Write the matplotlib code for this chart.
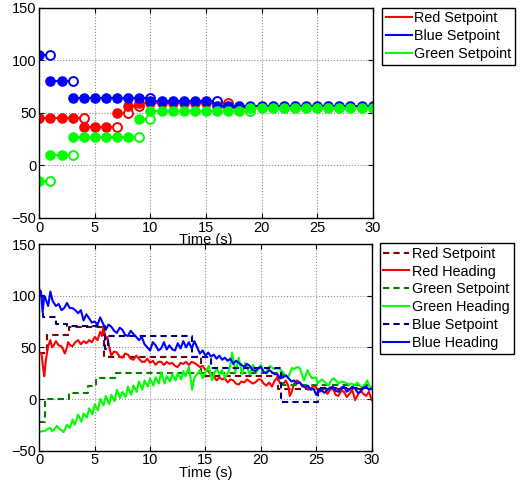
import numpy as np
import matplotlib
matplotlib.use('Agg')
import matplotlib.pyplot as plt
from matplotlib.lines import Line2D

plt.rcParams['font.family'] = ['Liberation Sans', 'DejaVu Sans']

# top chart: setpoint steps (segment boundaries in s, value on each segment)
red_sp_t = [0, 4, 7, 8, 9, 17, 30]
red_sp_v = [45, 36, 49.5, 56.5, 59.5, 55]
blue_sp_t = [0, 1, 3, 10, 16, 30]
blue_sp_v = [105, 80, 63.7, 61.5, 56.5]
green_sp_t = [0, 1, 3, 9, 10, 19, 30]
green_sp_v = [-15, 10, 26.5, 44, 52, 54.5]

# bottom chart: setpoints (step changes) and measured headings
red_set_t = [0, 0.7, 2.7, 5.8, 14.6, 21.5, 30]
red_set_v = [45, 62, 70, 40.5, 22, 10, 10]
green_set_t = [0, 0.5, 2.7, 4.4, 5.1, 6.9, 22, 30]
green_set_v = [-22, 0, 6, 13, 20, 25.5, 14, 14]
blue_set_t = [0, 0.3, 1.5, 2.5, 5.9, 6.2, 13.8, 15.5, 21.8, 25.2, 30]
blue_set_v = [100, 79, 73, 71, 48, 61, 41, 30, -3, 11, 11]

blue_head_t = [0, 0.15, 0.3, 0.45, 0.6, 0.8, 1.0, 1.2, 1.5, 1.75, 2.0, 2.25, 2.5, 2.75, 3.0,
               3.25, 3.5, 3.75, 4.0, 4.25, 4.5, 4.75, 5.0, 5.25, 5.5, 5.75, 6.0, 6.25, 6.5,
               6.75, 7.0, 7.25, 7.5, 7.75, 8.0, 8.25, 8.5, 8.75, 9.0, 9.25, 9.5, 9.75, 10.0,
               10.25, 10.5, 10.75, 11.0, 11.25, 11.5, 11.75, 12.0, 12.25, 12.5, 12.75, 13.0,
               13.25, 13.5, 13.75, 14.0, 14.25, 14.5, 14.75, 15.0, 15.25, 15.5, 15.75, 16.0,
               16.25, 16.5, 16.75, 17.0, 17.25, 17.5, 17.75, 18.0, 18.25, 18.5, 18.75, 19.0,
               19.25, 19.5, 19.75, 20.0, 20.25, 20.5, 20.75, 21.0, 21.25, 21.5, 21.75, 22.0,
               22.25, 22.5, 22.75, 23.0, 23.25, 23.5, 23.75, 24.0, 24.25, 24.5, 24.75, 25.0,
               25.25, 25.5, 25.75, 26.0, 26.25, 26.5, 26.75, 27.0, 27.25, 27.5, 27.75, 28.0,
               28.25, 28.5, 28.75, 29.0, 29.25, 29.5, 29.75, 30]
blue_head_v = [106, 104, 84, 100, 96, 90, 104, 95, 90, 92, 86, 88, 93, 88, 88,
               86, 83, 86, 76, 82, 78, 74, 75, 72, 79, 73, 67, 72, 70,
               66, 64, 69, 67, 62, 61, 66, 63, 60, 57, 60, 53, 50, 47,
               55, 52, 47, 49, 55, 48, 52, 48, 47, 54, 49, 56,
               50, 55, 49, 56, 50, 44, 47, 42, 45, 41, 43, 39,
               42, 38, 40, 37, 39, 34, 37, 35, 33, 31, 34, 32,
               28, 27, 30, 31, 26, 25, 28, 26, 24, 24, 20, 21,
               23, 20, 17, 18, 15, 16, 13, 11, 13, 9, 10, 4,
               9, 8, 6, 9, 11, 12, 8, 7, 11, 12, 7, 9,
               12, 10, 6, 7, 11, 12, 9, 10]

red_head_t = [0, 0.2, 0.35, 0.45, 0.6, 0.8, 1.0, 1.15, 1.3, 1.5, 1.75, 2.0, 2.15, 2.3, 2.5,
              2.6, 2.8, 3.0, 3.25, 3.5, 3.75, 4.0, 4.25, 4.5, 4.75, 5.0, 5.25, 5.5, 5.65,
              5.8, 6.0, 6.15, 6.3, 6.5, 6.75, 7.0, 7.25, 7.5, 7.75, 8.0, 8.25, 8.5, 8.75,
              9.0, 9.25, 9.5, 9.75, 10.0, 10.25, 10.5, 10.75, 11.0, 11.25, 11.5, 11.75,
              12.0, 12.25, 12.5, 12.75, 13.0, 13.25, 13.5, 13.75, 14.0, 14.25, 14.5, 14.75,
              15.0, 15.25, 15.5, 15.75, 16.0, 16.25, 16.5, 16.75, 17.0, 17.25, 17.5, 17.75,
              18.0, 18.25, 18.5, 18.75, 19.0, 19.25, 19.5, 19.75, 20.0, 20.25, 20.5, 20.75,
              21.0, 21.25, 21.5, 21.75, 22.0, 22.25, 22.5, 22.6, 22.75, 23.0, 23.25, 23.5,
              23.75, 24.0, 24.25, 24.5, 24.75, 25.0, 25.25, 25.5, 25.75, 26.0, 26.25, 26.5,
              26.75, 27.0, 27.25, 27.5, 27.75, 28.0, 28.25, 28.5, 28.75, 29.0, 29.25, 29.5,
              29.75, 30]
red_head_v = [45, 44, 30, 22, 38, 51, 57, 50, 52, 56, 52, 51, 48, 44, 50,
              55, 52, 51, 55, 57, 53, 56, 54, 57, 55, 60, 57, 65, 61,
              70, 58, 60, 51, 42, 46, 45, 41, 40, 44, 43, 39, 38, 42,
              39, 36, 36, 39, 35, 37, 33, 36, 36, 33, 36, 34,
              35, 32, 31, 35, 34, 36, 33, 36, 35, 33, 31, 32,
              28, 27, 24, 22, 18, 21, 19, 20, 16, 19, 18, 15,
              14, 17, 16, 19, 17, 15, 16, 19, 19, 15, 13, 16,
              12, 18, 21, 15, 14, 18, 12, 3, 6, 15, 18, 16,
              12, 13, 9, 10, 13, 11, 7, 8, 11, 5, 9, 10,
              4, 3, 8, 7, 2, 5, 9, -1, 4, 8, 5, 3,
              7, -1]

green_head_t = [0, 0.25, 0.5, 0.75, 1.0, 1.15, 1.3, 1.6, 1.8, 2.0, 2.2, 2.5, 2.75, 3.0, 3.2,
                3.5, 3.8, 4.0, 4.3, 4.5, 4.8, 5.0, 5.3, 5.5, 5.8, 6.0, 6.3, 6.5, 6.8,
                7.0, 7.3, 7.5, 7.8, 8.0, 8.3, 8.5, 8.8, 9.0, 9.3, 9.5, 9.8, 10.0, 10.3,
                10.5, 10.8, 11.0, 11.3, 11.5, 11.8, 12.0, 12.3, 12.5, 12.8, 13.0, 13.2,
                13.5, 13.8, 14.0, 14.25, 14.5, 14.75, 15.0, 15.3, 15.6, 15.8, 16.0, 16.25,
                16.5, 16.75, 17.0, 17.2, 17.4, 17.7, 18.0, 18.3, 18.6, 19.0, 19.3, 19.6,
                20.0, 20.2, 20.4, 20.8, 21.2, 21.6, 22.0, 22.25, 22.5, 22.8, 23.0, 23.3,
                23.5, 23.9, 24.2, 24.6, 25.0, 25.1, 25.5, 25.8, 26.1, 26.4, 26.6, 27.0,
                27.3, 27.6, 28.0, 28.2, 28.5, 28.7, 29.1, 29.4, 29.6, 29.9, 30]
green_head_v = [-32, -31, -31, -29, -28, -31, -30, -26, -29, -30, -32, -25, -28, -20, -25,
                -15, -22, -14, -18, -9, -15, -5, -11, 0, -6, 3, -5, 4, -2,
                9, 1, 7, 2, 12, 4, 13, 7, 17, 9, 18, 12, 20, 13,
                21, 15, 26, 15, 22, 17, 24, 18, 25, 19, 27, 22,
                31, 9, 21, 24, 28, 20, 26, 32, 18, 25, 30, 24,
                28, 20, 25, 30, 45, 26, 40, 24, 35, 24, 33, 26,
                33, 27, 25, 32, 29, 30, 26, 22, 22, 30, 29, 31,
                30, 18, 28, 20, 21, 15, 19, 16, 13, 19, 20, 15,
                17, 16, 14, 15, 13, 16, 11, 14, 18, 10, 12]

RED, BLUE, GREEN = '#ff0000', '#0000ff', '#00ff00'
DRED, DGREEN, DBLUE = '#800000', '#008000', '#000080'
LW = 1.5

fig = plt.figure(figsize=(5.21, 4.88), dpi=100)
ax1 = fig.add_axes([0.0754, 0.5533, 0.640, 0.4313])
ax2 = fig.add_axes([0.0754, 0.0764, 0.638, 0.4236])


def draw_steps(ax, times, vals, color):
    for i, v in enumerate(vals):
        t0, t1 = times[i], times[i + 1]
        ax.plot([t0, t1], [v, v], color=color, lw=LW)
        last = i == len(vals) - 1
        xs = np.arange(t0, t1 + 1 if last else t1)
        ax.plot(xs, [v] * len(xs), 'o', color=color, ms=6.6, mew=1)
        if not last:
            ax.plot([t1], [v], 'o', color=color, mfc='white', ms=6.4, mew=1.4)


draw_steps(ax1, red_sp_t, red_sp_v, RED)
draw_steps(ax1, blue_sp_t, blue_sp_v, BLUE)
draw_steps(ax1, green_sp_t, green_sp_v, GREEN)

leg_kw = dict(loc='upper left', fontsize=10.4, fancybox=False, edgecolor='black',
              framealpha=1, borderpad=0.25, labelspacing=0.27, handlelength=1.8,
              handletextpad=0.2, borderaxespad=0)

handles = [Line2D([], [], color=RED, lw=LW), Line2D([], [], color=BLUE, lw=LW),
           Line2D([], [], color=GREEN, lw=LW)]
fig.legend(handles, ['Red Setpoint', 'Blue Setpoint', 'Green Setpoint'],
           bbox_to_anchor=(0.733, 0.984), **leg_kw)

dash = (3.0, 2.0)
ax2.plot(red_set_t, red_set_v, color=DRED, lw=LW, ls='--', dashes=dash,
         drawstyle='steps-post', label='Red Setpoint')
ax2.plot(red_head_t, red_head_v, color=RED, lw=LW, label='Red Heading')
ax2.plot(green_set_t, green_set_v, color=DGREEN, lw=LW, ls='--', dashes=dash,
         drawstyle='steps-post', label='Green Setpoint')
ax2.plot(green_head_t, green_head_v, color=GREEN, lw=LW, label='Green Heading')
ax2.plot(blue_set_t, blue_set_v, color=DBLUE, lw=LW, ls='--', dashes=dash,
         drawstyle='steps-post', label='Blue Setpoint')
ax2.plot(blue_head_t, blue_head_v, color=BLUE, lw=LW, label='Blue Heading')

fig.legend(*ax2.get_legend_handles_labels(), bbox_to_anchor=(0.729, 0.502), **leg_kw)

for ax in (ax1, ax2):
    ax.set_xlim(0, 30)
    ax.set_ylim(-50, 150)
    ax.set_xticks(range(0, 31, 5))
    ax.set_yticks([-50, 0, 50, 100, 150])
    ax.grid(True, ls=':', color='0.55', lw=0.8)
    ax.tick_params(direction='in', top=True, right=True, labelsize=10.5, pad=2)
    for s in ax.spines.values():
        s.set_linewidth(1.0)
    ax.set_xlabel('Time (s)', fontsize=10.5, labelpad=-1)

fig.savefig('out.png', dpi=100)
